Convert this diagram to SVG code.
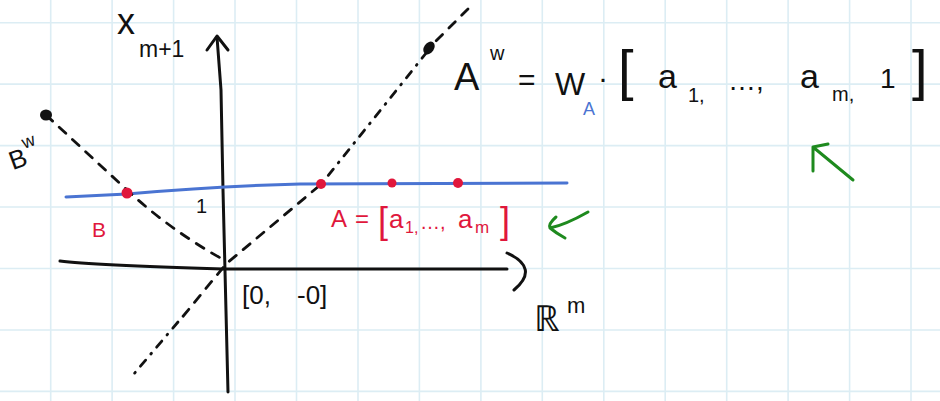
<svg xmlns="http://www.w3.org/2000/svg" width="940" height="401" viewBox="0 0 940 401">
<style>
.grid{stroke:#dcedf4;stroke-width:1.6;fill:none}
.ink{stroke:#111;stroke-width:3;fill:none;stroke-linecap:round;stroke-linejoin:round}
.dash{stroke:#111;stroke-width:2.8;fill:none;stroke-linecap:round;stroke-dasharray:9 9}
.dashdot{stroke:#111;stroke-width:2.8;fill:none;stroke-linecap:round;stroke-dasharray:8 8 1 8}
.blue{stroke:#4a74d2;stroke-width:3;fill:none;stroke-linecap:round}
.green{stroke:#1e8a1e;stroke-width:3;fill:none;stroke-linecap:round;stroke-linejoin:round}
.t{font-family:"Liberation Sans",Arial,sans-serif;fill:#111}
.r{font-family:"Liberation Sans",Arial,sans-serif;fill:#e0173c}
.b{font-family:"Liberation Sans",Arial,sans-serif;fill:#4a74d2}
.reddot{fill:#e0173c}
</style>
<rect width="940" height="401" fill="#fff"/>
<g id="grid" class="grid">
<path d="M50.7 0V401M112.1 0V401M173.6 0V401M235 0V401M296.5 0V401M358 0V401M419.4 0V401M480.9 0V401M542.3 0V401M603.8 0V401M665.2 0V401M726.7 0V401M788.1 0V401M849.6 0V401M911 0V401"/>
<path d="M0 22.7H940M0 84.1H940M0 145.6H940M0 207H940M0 268.5H940M0 330H940M0 391.4H940"/>
</g>
<g id="connectors">
<path class="ink" d="M217 37 L221 90 L223 190 L228 392"/>
<path class="ink" d="M207 50 L217 36 L228 50"/>
<path class="ink" d="M60 261 Q90 265 223 269 L507 269"/>
<path class="ink" d="M507 253 Q540 268 514 290"/>
<path class="blue" d="M66 197 L127 194 Q220 186 300 184 L567 183"/>
<path class="dash" d="M46 115 L127 190 Q170 230 224 260"/>
<path class="dash" d="M468 9 L431 46"/>
<path class="dashdot" d="M427 52 L323 182"/>
<path class="dash" d="M319 186 L226 264 L180 320"/>
<path class="dashdot" d="M178 322 L133 375"/>
<path class="green" d="M853 180 L813 147 M813 171 L813 147 L828 144"/>
<path class="green" d="M588 212 Q565 225 550 228 M556 217 Q548 224 550 228 Q556 233 565 238"/>
</g>
<g id="points">
<ellipse cx="46" cy="115" rx="6" ry="5.5" fill="#111"/>
<ellipse cx="429" cy="48" rx="5" ry="7" transform="rotate(35 429 48)" fill="#111"/>
<circle class="reddot" cx="127" cy="193" r="5.5"/>
<circle class="reddot" cx="321" cy="184" r="5"/>
<circle class="reddot" cx="392" cy="183" r="4.5"/>
<circle class="reddot" cx="458" cy="183" r="5"/>
</g>
<g id="label-xm1"><text class="t" x="117" y="34" font-size="36">x</text><text class="t" x="139" y="57" font-size="23">m+1</text></g>
<g id="label-Bw" transform="rotate(-20 22 152)"><text class="t" x="7" y="166" font-size="26">B</text><text class="t" x="25" y="150" font-size="18">w</text></g>
<g id="label-1"><text class="t" x="196" y="213" font-size="20">1</text></g>
<g id="label-B"><text class="r" x="92" y="237" font-size="21">B</text></g>
<g id="label-A">
<text class="r" x="331" y="227" font-size="24">A</text>
<text class="r" x="355" y="227" font-size="24">=</text>
<text class="r" x="378" y="233" font-size="36">[</text>
<text class="r" x="389" y="228" font-size="26">a</text>
<text class="r" x="405" y="233" font-size="16">1,</text>
<text class="r" x="420" y="229" font-size="20">…,</text>
<text class="r" x="458" y="228" font-size="26">a</text>
<text class="r" x="475" y="233" font-size="17">m</text>
<text class="r" x="500" y="233" font-size="36">]</text>
</g>
<g id="label-origin">
<text class="t" x="242" y="304" font-size="26">[0,</text>
<text class="t" x="297" y="304" font-size="26">-0]</text>
</g>
<g id="label-Rm"><text class="t" x="534" y="331" font-size="36">ℝ</text><text class="t" x="567" y="313" font-size="22">m</text></g>
<g id="label-Aw">
<text class="t" x="454" y="90" font-size="38">A</text>
<text class="t" x="490" y="60" font-size="20">w</text>
<text class="t" x="518" y="90" font-size="30">=</text>
<text class="t" x="555" y="95" font-size="32">W</text>
<text class="b" x="583" y="115" font-size="18">A</text>
<text class="t" x="598" y="88" font-size="30">·</text>
<text class="t" x="618" y="89" font-size="56">[</text>
<text class="t" x="658" y="88" font-size="34">a</text>
<text class="t" x="688" y="102" font-size="20">1,</text>
<text class="t" x="728" y="90" font-size="28">…,</text>
<text class="t" x="800" y="88" font-size="34">a</text>
<text class="t" x="832" y="101" font-size="20">m,</text>
<text class="t" x="880" y="88" font-size="28">1</text>
<text class="t" x="912" y="89" font-size="56">]</text>
</g>
</svg>
